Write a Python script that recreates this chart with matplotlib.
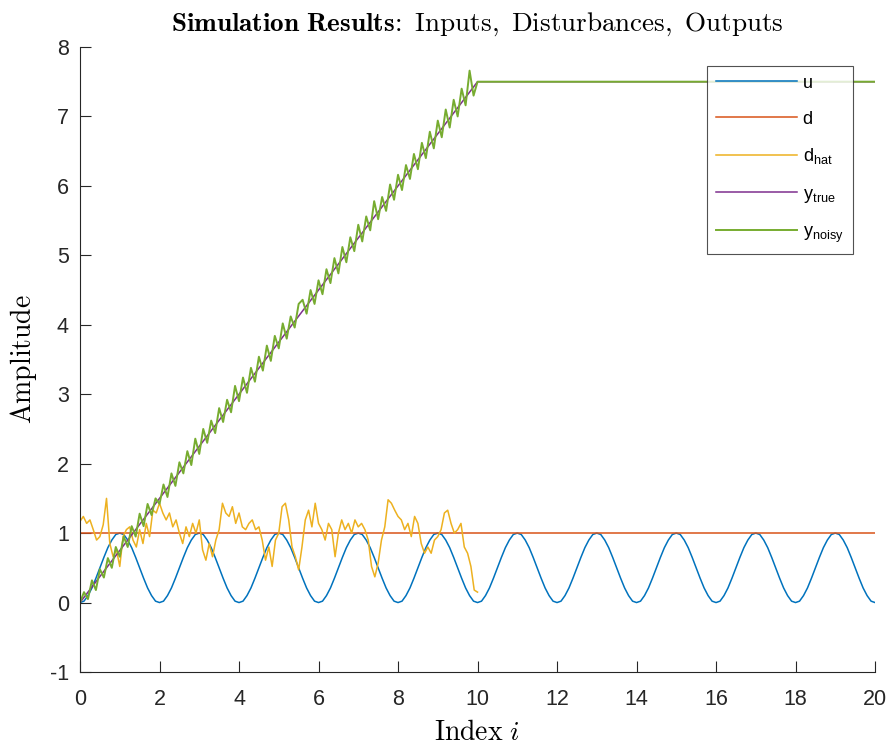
import numpy as np
import matplotlib
matplotlib.use("Agg")
import matplotlib.pyplot as plt

plt.rcParams["font.family"] = ["Liberation Sans", "DejaVu Sans"]
plt.rcParams["mathtext.fontset"] = "cm"
plt.rcParams["axes.unicode_minus"] = False

# u: read every 0.1 from 0 to 20
u_vals = [
    0.00, 0.02, 0.10, 0.21, 0.35, 0.50, 0.65, 0.79, 0.90, 0.98, 1.00, 0.98, 0.90, 0.79, 0.65, 0.50, 0.35, 0.21, 0.10, 0.02,
    0.00, 0.02, 0.10, 0.21, 0.35, 0.50, 0.65, 0.79, 0.90, 0.98, 1.00, 0.98, 0.90, 0.79, 0.65, 0.50, 0.35, 0.21, 0.10, 0.02,
    0.00, 0.02, 0.10, 0.21, 0.35, 0.50, 0.65, 0.79, 0.90, 0.98, 1.00, 0.98, 0.90, 0.79, 0.65, 0.50, 0.35, 0.21, 0.10, 0.02,
    0.00, 0.02, 0.10, 0.21, 0.35, 0.50, 0.65, 0.79, 0.90, 0.98, 1.00, 0.98, 0.90, 0.79, 0.65, 0.50, 0.35, 0.21, 0.10, 0.02,
    0.00, 0.02, 0.10, 0.21, 0.35, 0.50, 0.65, 0.79, 0.90, 0.98, 1.00, 0.98, 0.90, 0.79, 0.65, 0.50, 0.35, 0.21, 0.10, 0.02,
    0.00, 0.02, 0.10, 0.21, 0.35, 0.50, 0.65, 0.79, 0.90, 0.98, 1.00, 0.98, 0.90, 0.79, 0.65, 0.50, 0.35, 0.21, 0.10, 0.02,
    0.00, 0.02, 0.10, 0.21, 0.35, 0.50, 0.65, 0.79, 0.90, 0.98, 1.00, 0.98, 0.90, 0.79, 0.65, 0.50, 0.35, 0.21, 0.10, 0.02,
    0.00, 0.02, 0.10, 0.21, 0.35, 0.50, 0.65, 0.79, 0.90, 0.98, 1.00, 0.98, 0.90, 0.79, 0.65, 0.50, 0.35, 0.21, 0.10, 0.02,
    0.00, 0.02, 0.10, 0.21, 0.35, 0.50, 0.65, 0.79, 0.90, 0.98, 1.00, 0.98, 0.90, 0.79, 0.65, 0.50, 0.35, 0.21, 0.10, 0.02,
    0.00, 0.02, 0.10, 0.21, 0.35, 0.50, 0.65, 0.79, 0.90, 0.98, 1.00, 0.98, 0.90, 0.79, 0.65, 0.50, 0.35, 0.21, 0.10, 0.02,
    0.00,
]
u_x = np.linspace(0, 20, len(u_vals))

d_x = [0, 20]
d_vals = [1.0, 1.0]

# d_hat: noisy estimate, 0 to 10
d_hat_vals = [
    1.17, 1.24, 1.14, 1.19, 1.05, 0.90, 0.95, 1.12, 1.50, 0.85,
    0.66, 0.76, 0.52, 0.95, 1.05, 1.09, 0.90, 0.80, 1.05, 0.85,
    1.14, 0.95, 1.33, 1.29, 1.43, 1.29, 1.19, 1.29, 1.09, 1.19,
    1.00, 0.85, 1.09, 0.95, 1.14, 1.00, 1.19, 0.76, 0.61, 0.85,
    0.66,
    0.90, 1.05, 1.43, 1.29, 1.24, 1.38, 1.14, 1.29, 1.09, 1.05,
    1.14, 1.19, 1.05, 1.09, 0.90, 0.61, 0.80, 0.52, 0.90, 1.00,
    1.38, 1.43, 1.19, 0.80, 0.66, 0.47, 0.80, 1.19, 1.33, 1.09,
    1.43, 1.14, 1.05, 0.90, 1.14, 1.05, 0.66, 1.00, 1.19, 1.05,
    1.14,
    1.00, 1.19, 1.09, 1.14, 1.05, 0.90, 0.52, 0.37, 0.57, 0.90,
    1.09, 1.48, 1.43, 1.33, 1.24, 1.19, 1.05, 1.14, 0.95, 1.24,
    1.14, 0.85, 0.71, 0.80, 0.71, 0.90, 0.95, 1.05, 1.29, 1.33,
    1.14, 1.00, 1.05, 1.14, 0.80, 0.71, 0.52, 0.18, 0.15,
]
d_hat_x = np.linspace(0, 10, len(d_hat_vals))

y_true_x = [0, 10, 20]
y_true_vals = [0.0, 7.5, 7.5]

# y_noisy: read every 0.1 from 0 to 10, then flat to 20
y_noisy_vals = [
    0.00, 0.15, 0.05, 0.32, 0.18, 0.48, 0.36, 0.64, 0.50, 0.80,
    0.66, 0.95, 0.80, 1.10, 0.95, 1.28, 1.10, 1.42, 1.26, 1.50,
    1.42, 1.70, 1.52, 1.86, 1.68, 2.02, 1.86, 2.18, 1.98, 2.36,
    2.14, 2.50, 2.30, 2.62, 2.44, 2.80, 2.60, 2.92, 2.74, 3.12,
    2.90, 3.24, 3.02, 3.38, 3.18, 3.54, 3.34, 3.70, 3.48, 3.84,
    3.66, 4.02, 3.80, 4.12, 3.96, 4.30, 4.36, 4.16, 4.50, 4.30,
    4.64, 4.44, 4.80, 4.60, 4.96, 4.74, 5.12, 4.90, 5.26, 5.06,
    5.44, 5.20, 5.56, 5.36, 5.78, 5.52, 5.84, 5.64, 6.02, 5.80,
    6.16, 5.94, 6.30, 6.10, 6.46, 6.24, 6.62, 6.40, 6.78, 6.54,
    6.94, 6.70, 7.10, 6.84, 7.24, 7.00, 7.40, 7.16, 7.66, 7.30,
    7.50, 7.50,
]
y_noisy_x = list(np.linspace(0, 10, len(y_noisy_vals) - 1)) + [20]

x_ticks = [0, 2, 4, 6, 8, 10, 12, 14, 16, 18, 20]
y_ticks = [-1, 0, 1, 2, 3, 4, 5, 6, 7, 8]

fig = plt.figure(figsize=(8.91, 7.46), dpi=100)
ax = fig.add_axes([0.0898, 0.0992, 0.8923, 0.8378])

lw = 1.1
ax.plot(u_x, u_vals, color="#0072BD", lw=lw, label="u")
ax.plot(d_x, d_vals, color="#D95319", lw=lw, label="d")
ax.plot(d_hat_x, d_hat_vals, color="#EDB120", lw=lw, label=r"d$_{\mathregular{hat}}$")
ax.plot(y_true_x, y_true_vals, color="#7E2F8E", lw=lw, label=r"y$_{\mathregular{true}}$")
ax.plot(y_noisy_x, y_noisy_vals, color="#77AC30", lw=1.4, label=r"y$_{\mathregular{noisy}}$")

ax.set_xlim(0, 20)
ax.set_ylim(-1, 8)
ax.set_xticks(x_ticks)
ax.set_yticks(y_ticks)
ax.spines["top"].set_visible(False)
ax.spines["right"].set_visible(False)
for s in ["left", "bottom"]:
    ax.spines[s].set_color("#262626")
ax.tick_params(direction="in", length=8, labelsize=15.5, colors="#262626")
ax.tick_params(axis="x", pad=12)
ax.tick_params(axis="y", pad=8)

ax.set_title(r"$\mathbf{Simulation\ Results}\!{:}\mathrm{\ Inputs,\ Disturbances,\ Outputs}$",
             fontsize=19.5, pad=12)
ax.set_xlabel(r"$\mathrm{Index}\ i$", fontsize=20)
ax.set_ylabel(r"$\mathrm{Amplitude}$", fontsize=20)
ax.xaxis.set_label_coords(0.5, -0.077)
ax.yaxis.set_label_coords(-0.052, 0.5)

leg = ax.legend(loc="upper right", bbox_to_anchor=(0.972, 0.970), fontsize=13,
                frameon=True, fancybox=False, handlelength=4.5, labelspacing=1.05,
                borderpad=0.5, handletextpad=0.3, borderaxespad=0)
leg.get_frame().set_edgecolor("#262626")
leg.get_frame().set_linewidth(0.8)

fig.savefig("out.png", dpi=100)
